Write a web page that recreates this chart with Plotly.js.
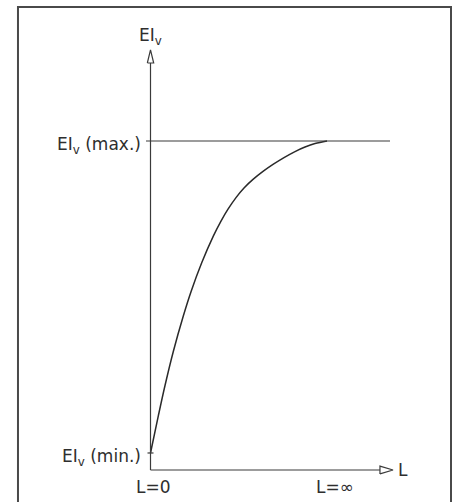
<!DOCTYPE html>
<html>
<head>
<meta charset="utf-8">
<script src="https://cdn.plot.ly/plotly-3.0.1.min.js"></script>
<style>html,body{margin:0;padding:0;background:#fff;}#chart{width:454px;height:502px;}</style>
</head>
<body>
<div id="chart"></div>
<script>
// Normalised length L (0 = L=0, 1 = where EIv reaches max) and normalised EIv (0 = min, 1 = max)
var curveL   = [0.000, 0.0442, 0.0822, 0.1292, 0.1858, 0.2295, 0.2901, 0.3558, 0.3994, 0.4391, 0.4844, 0.5297, 0.5807, 0.6374, 0.6941, 0.7564, 0.8187, 0.8754, 0.9320, 1.000];
var curveEIv = [0.000, 0.1188, 0.2163, 0.3253, 0.4391, 0.5170, 0.6096, 0.6952, 0.7433, 0.7814, 0.8186, 0.8494, 0.8768, 0.9024, 0.9248, 0.9467, 0.9661, 0.9805, 0.9917, 1.000];
var maxLineL = [-0.0255, 1.357];
var maxLineEIv = [1, 1];
var yTickLabels = ["EI<sub>v</sub> (max.)", "EI<sub>v</sub> (min.)"];
var yTickValues = [1, 0];
var xTickLabels = ["L=0", "L=\u221e"];
var xTickValues = [0.015, 1.045];
var yAxisTitle = "EI<sub>v</sub>";
var xAxisTitle = "L";

var lineCol = "#3a3a3a";
var textCol = "#2e2e2e";
var font = {family: "DejaVu Sans", size: 17, color: textCol};

var axisY = -0.0545;     // level of the L axis
var upTip = 1.2917, upBase = 1.250, upHalfW = 0.018;
var rightTip = 1.374, rightBase = 1.300, rightHalfH = 0.0125;

var traces = [
  {x: curveL, y: curveEIv, mode: "lines", line: {color: "#2a2a2a", width: 1.5, shape: "spline", smoothing: 1}, hoverinfo: "skip"},
  {x: maxLineL, y: maxLineEIv, mode: "lines", line: {color: lineCol, width: 1.2}, hoverinfo: "skip"},
  // vertical axis
  {x: [0, 0], y: [axisY, upBase], mode: "lines", line: {color: lineCol, width: 1.2}, hoverinfo: "skip"},
  // horizontal axis
  {x: [0, rightBase], y: [axisY, axisY], mode: "lines", line: {color: lineCol, width: 1.2}, hoverinfo: "skip"},
  // min tick
  {x: [-0.017, 0.017], y: [0, 0], mode: "lines", line: {color: lineCol, width: 1.2}, hoverinfo: "skip"},
  // open arrow heads
  {x: [-upHalfW, 0, upHalfW, -upHalfW], y: [upBase, upTip, upBase, upBase], mode: "lines",
   line: {color: lineCol, width: 1.2}, hoverinfo: "skip"},
  {x: [rightBase, rightTip, rightBase, rightBase], y: [axisY - rightHalfH, axisY, axisY + rightHalfH, axisY - rightHalfH], mode: "lines",
   line: {color: lineCol, width: 1.2}, hoverinfo: "skip"}
];

var annotations = [];
var yLabelY = [0.985, -0.015];
for (var i = 0; i < yTickLabels.length; i++) {
  annotations.push({x: -0.045, y: yTickValues[i] === 1 ? yLabelY[0] : yLabelY[1], xref: "x", yref: "y", text: yTickLabels[i],
    showarrow: false, xanchor: "right", yanchor: "middle", font: font});
}
for (var j = 0; j < xTickLabels.length; j++) {
  annotations.push({x: xTickValues[j], y: axisY - 0.055, xref: "x", yref: "y", text: xTickLabels[j],
    showarrow: false, xanchor: "center", yanchor: "middle", font: font});
}
annotations.push({x: 0, y: 1.335, xref: "x", yref: "y", text: yAxisTitle, showarrow: false,
  xanchor: "center", yanchor: "middle", font: font});
annotations.push({x: rightTip + 0.018, y: axisY, xref: "x", yref: "y", text: xAxisTitle, showarrow: false,
  xanchor: "left", yanchor: "middle", font: font});

var layout = {
  width: 454, height: 502,
  margin: {l: 0, r: 0, t: 0, b: 0},
  paper_bgcolor: "#ffffff", plot_bgcolor: "#ffffff",
  showlegend: false,
  xaxis: {range: [-0.8527, 1.7195], visible: false, fixedrange: true},
  yaxis: {range: [-0.1571, 1.4519], visible: false, fixedrange: true},
  annotations: annotations,
  shapes: [
    {type: "rect", xref: "paper", yref: "paper", x0: 0.0396, x1: 0.9934, y0: -0.05, y1: 0.986,
     line: {color: "#4a4a4a", width: 2}}
  ]
};

Plotly.newPlot("chart", traces, layout, {displayModeBar: false, staticPlot: true});
</script>
</body>
</html>
